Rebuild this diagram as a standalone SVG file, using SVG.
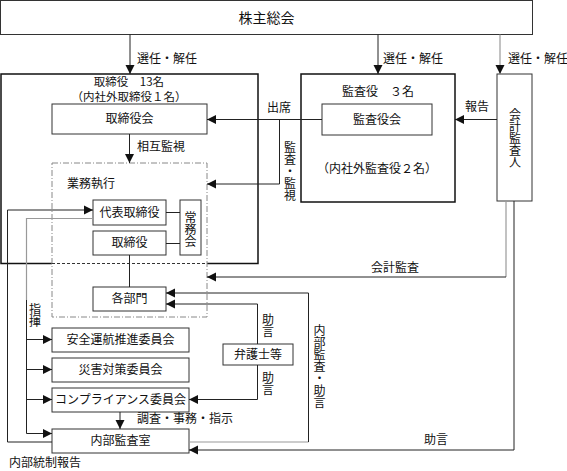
<svg xmlns="http://www.w3.org/2000/svg" width="567" height="471" viewBox="0 0 567 471">
<defs>
<marker id="ah" markerWidth="10" markerHeight="10" refX="9" refY="5" orient="auto" markerUnits="userSpaceOnUse">
<path d="M0,0.5 L9,5 L0,9.5 Z" fill="#111"/>
</marker>
</defs>
<style>
text{font-family:"Noto Sans CJK JP","Noto Sans CJK SC",sans-serif;font-size:12px;fill:#111}
.c{text-anchor:middle}
.v{writing-mode:vertical-rl;text-anchor:middle}
.box{fill:#fff;stroke:#333;stroke-width:1}
.big{fill:#fff;stroke:#111;stroke-width:1.5}
.ln{fill:none;stroke:#222;stroke-width:1}
.gl{fill:none;stroke:#999;stroke-width:1.2}
.ar{marker-end:url(#ah)}
</style>
<rect width="567" height="471" fill="#fff"/>

<g id="shareholders">
<rect class="box" x="0.5" y="0.5" width="532" height="34"/>
<text class="c" x="266.5" y="22.5" style="font-size:14px">株主総会</text>
</g>

<g id="board">
<rect x="1" y="74" width="257" height="189" fill="#fff"/>
<path class="ln" d="M52,263.5 H1 V74 H258 V263.5 H207" style="stroke:#111;stroke-width:1.5"/>
<text class="c" x="129" y="86" style="font-size:11.5px">取締役　13名</text>
<text class="c" x="129" y="101" style="font-size:11.5px">（内社外取締役１名）</text>
</g>

<g id="auditors">
<rect class="big" x="301" y="74" width="154" height="128"/>
<text class="c" x="378" y="96">監査役　３名</text>
<text class="c" x="377" y="173">（内社外監査役２名）</text>
</g>

<g id="accounting-auditor">
<rect class="box" x="497" y="74" width="35" height="127"/>
<text class="v" x="515" y="138">会計監査人</text>
</g>

<g id="board-meeting">
<rect class="box" x="52" y="104" width="155" height="30"/>
<text class="c" x="129.5" y="123">取締役会</text>
</g>

<g id="audit-board">
<rect class="box" x="322" y="104" width="110" height="31"/>
<text class="c" x="377" y="123.5">監査役会</text>
</g>

<g id="execution">
<rect x="52" y="163" width="155" height="154" fill="none" stroke="#888" stroke-width="1" stroke-dasharray="6,2,1,2"/>
<line x1="52" y1="263.5" x2="207" y2="263.5" stroke="#333" stroke-width="1" stroke-dasharray="3,2"/>
<text x="67" y="187.5">業務執行</text>
</g>

<g id="president">
<rect class="box" x="93" y="200" width="73" height="25"/>
<text class="c" x="129.5" y="216.5">代表取締役</text>
</g>

<g id="directors">
<rect class="box" x="93" y="231" width="73" height="24"/>
<text class="c" x="129.5" y="247">取締役</text>
</g>

<g id="managing-committee">
<rect class="box" x="180" y="200" width="21" height="55"/>
<text class="v" x="190.5" y="229">常務会</text>
</g>

<g id="departments">
<rect class="box" x="93" y="287" width="73" height="24"/>
<text class="c" x="129.5" y="303">各部門</text>
</g>

<g id="safety-committee">
<rect class="box" x="52" y="328" width="137" height="24"/>
<text class="c" x="120.5" y="344">安全運航推進委員会</text>
</g>

<g id="disaster-committee">
<rect class="box" x="52" y="358" width="137" height="24"/>
<text class="c" x="120.5" y="374">災害対策委員会</text>
</g>

<g id="compliance-committee">
<rect class="box" x="52" y="388" width="137" height="24"/>
<text class="c" x="120.5" y="404">コンプライアンス委員会</text>
</g>

<g id="internal-audit">
<rect class="box" x="52" y="429" width="137" height="24"/>
<text class="c" x="120.5" y="445">内部監査室</text>
</g>

<g id="lawyers">
<rect class="box" x="223" y="344" width="70" height="21"/>
<text class="c" x="258" y="359">弁護士等</text>
</g>

<g id="connectors">
<path class="ln ar" d="M130,34.5 V74"/>
<path class="ln ar" d="M378,34.5 V74"/>
<path class="gl ar" d="M500,34.5 V74"/>
<path class="ln ar" d="M322,119.5 H207"/>
<path class="ln ar" d="M497,119.5 H455"/>
<path class="ln ar" d="M279.5,119.5 V184 H207"/>
<path class="ln ar" d="M129.5,134 V163"/>
<path class="gl" d="M506,201 V277"/>
<path class="ln ar" d="M506,277 H207"/>
<path class="ln ar" d="M514,201 V450 H189"/>
<path class="ln" d="M166,212.5 H180 M166,243.5 H180 M129.5,255 V287"/>
<path class="ln ar" d="M52,442 H7.5 V210 H93"/>
<path class="gl" d="M93,218.5 H26.5 V300"/>
<path class="ln ar" d="M26.5,300 V433.5 H52"/>
<path class="ln ar" d="M26.5,339.5 H52"/>
<path class="ln ar" d="M26.5,369.5 H52"/>
<path class="ln ar" d="M26.5,399.5 H52"/>
<path class="gl" d="M189,442 H308.5"/>
<path class="ln ar" d="M308.5,442 V293 H166"/>
<path class="ln ar" d="M257.5,344 V304 H166"/>
<path class="ln ar" d="M257.5,365 V399.5 H189"/>
<path class="ln ar" d="M120,412 V429"/>
</g>

<g id="labels">
<text x="137" y="62.5">選任・解任</text>
<text x="383" y="62.5">選任・解任</text>
<text x="508" y="62.5">選任・解任</text>
<text class="c" x="279" y="112">出席</text>
<text class="c" x="477" y="111">報告</text>
<text x="137" y="151">相互監視</text>
<text class="v" x="290" y="171">監査・監視</text>
<text class="c" x="395" y="272">会計監査</text>
<text class="c" x="436" y="444">助言</text>
<text class="v" x="35" y="315">指揮</text>
<text class="v" x="268" y="325">助言</text>
<text class="v" x="268" y="383">助言</text>
<text class="v" x="319.5" y="366">内部監査・助言</text>
<text x="137" y="422.5">調査・事務・指示</text>
<text x="9" y="467">内部統制報告</text>
</g>
</svg>
